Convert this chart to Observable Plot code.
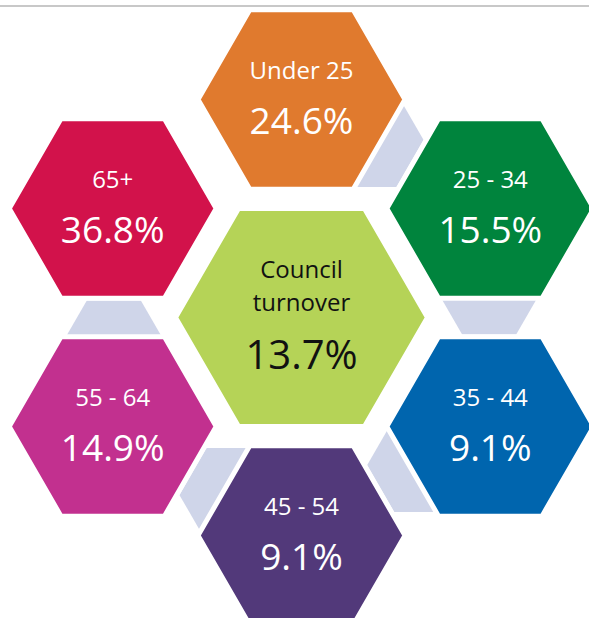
<!DOCTYPE html>
<html><head><meta charset="utf-8">
<script src="https://cdn.jsdelivr.net/npm/d3@7"></script>
<script src="https://cdn.jsdelivr.net/npm/@observablehq/plot@0.6"></script>
<style>html,body{margin:0;padding:0;background:#fff;} #chart svg{display:block}</style>
</head><body><div id="chart"></div>
<script>
// ---- data ----
const groups = ["Under 25", "25 - 34", "35 - 44", "45 - 54", "55 - 64", "65+"];
const values = [24.6, 15.5, 9.1, 9.1, 14.9, 36.8];
const colors = ["#E07A2E", "#00843D", "#0065AE", "#52397A", "#C2308F", "#D2124B"];
const centerLabel = ["Council", "turnover"];
const centerValue = 13.7;
const centerColor = "#B5D357";
const linkColor = "#CFD5E9";
const links = [[0, 1], [1, 2], [2, 3], [3, 4], [4, 5]];

// ---- layout ----
const W = 589, H = 618;
const cx = 301, cy = 317, ring = 218;
const Rout = 103.5, Rin = 126, Rlink = 54, linkDist = 190, linkTwist = 9;
const gap = 5;
const font = "'Open Sans', Lato, sans-serif";
const rad = d => d * Math.PI / 180;

function hexPts(x0, y0, R) {
  return d3.range(6).map(k => ({x: x0 + R * Math.cos(k * Math.PI / 3), y: y0 + R * Math.sin(k * Math.PI / 3)}));
}

const outer = groups.map((g, i) => {
  const a = rad(90 - 60 * i);
  return {group: g, value: values[i], color: colors[i], x: cx + ring * Math.cos(a), y: cy - ring * Math.sin(a)};
});
const linkHex = links.map(([i, j]) => {
  const a = rad(90 - 60 * (i + 0.5) + linkTwist);
  return {x: cx + linkDist * Math.cos(a), y: cy - linkDist * Math.sin(a)};
});

const marks = [];
marks.push(Plot.ruleY([5.5], {stroke: "#c8c8c8", strokeWidth: 2}));
for (const l of linkHex) {
  marks.push(Plot.line(hexPts(l.x, l.y, Rlink), {x: "x", y: "y", curve: "linear-closed", fill: linkColor, stroke: "none"}));
}
for (const o of outer) {
  marks.push(Plot.line(hexPts(o.x, o.y, Rout), {x: "x", y: "y", curve: "linear-closed", fill: o.color, stroke: "white", strokeWidth: gap, strokeLinejoin: "miter"}));
}
marks.push(Plot.line(hexPts(cx, cy, Rin), {x: "x", y: "y", curve: "linear-closed", fill: centerColor, stroke: "white", strokeWidth: gap, strokeLinejoin: "miter"}));

// outer texts
marks.push(Plot.text(outer, {x: "x", y: d => d.y - 21 - 0.32 * 24, text: "group", fill: "white", fontSize: 24, fontFamily: font}));
marks.push(Plot.text(outer, {x: "x", y: d => d.y + 34 - 0.32 * 37, text: d => d.value.toFixed(1) + "%", fill: "white", fontSize: 37, fontFamily: font}));
// centre texts
marks.push(Plot.text([centerLabel[0]], {x: () => cx, y: () => cy - 40 - 0.32 * 24, text: d => d, fill: "#111", fontSize: 24, fontFamily: font}));
marks.push(Plot.text([centerLabel[1]], {x: () => cx, y: () => cy - 7 - 0.32 * 24, text: d => d, fill: "#111", fontSize: 24, fontFamily: font}));
marks.push(Plot.text([centerValue], {x: () => cx, y: () => cy + 51 - 0.32 * 40, text: d => d.toFixed(1) + "%", fill: "#111", fontSize: 40, fontFamily: font}));

const chart = Plot.plot({
  width: W, height: H,
  margin: 0,
  x: {domain: [0, W], range: [0, W], axis: null},
  y: {domain: [0, H], range: [0, H], axis: null},
  style: {background: "white"},
  marks
});
document.getElementById("chart").append(chart);
</script>
</body></html>
